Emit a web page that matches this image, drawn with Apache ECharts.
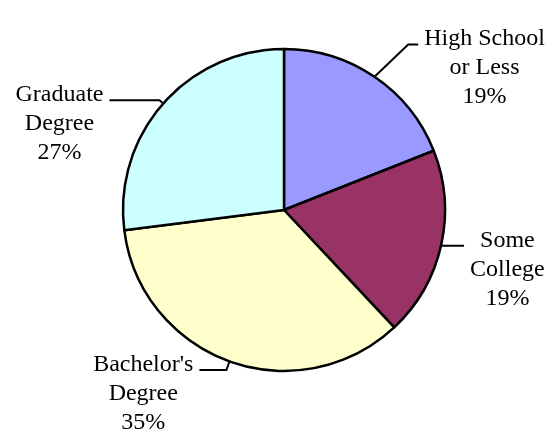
<!DOCTYPE html>
<html style="height: 100%">
<head>
    <meta charset="UTF-8">
    <title>Education Pie</title>
    <script src="https://cdn.jsdelivr.net/npm/echarts@6/dist/echarts.min.js"></script>
    <style>
        html, body { margin: 0; padding: 0; background: #fff; }
        #chart { width: 556px; height: 431px; }
    </style>
</head>
<body>
    <div id="chart"></div>
    <script>
        // data
        var categories = ['High School\nor Less', 'Some\nCollege', "Bachelor's\nDegree", 'Graduate\nDegree'];
        var values = [19, 19, 35, 27];
        var colors = ['#9999FF', '#993366', '#FFFFCC', '#CCFFFF'];
        // leader line lengths per slice [length, length2]
        var leaders = [[60, 10], [3, 25], [9, 27], [5, 50]];

        var data = categories.map(function (name, i) {
            return {
                name: name,
                value: values[i],
                itemStyle: { color: colors[i] },
                labelLine: {
                    show: true,
                    length: leaders[i][0],
                    length2: leaders[i][1],
                    lineStyle: { color: '#000', width: 2 }
                }
            };
        });

        var chart = echarts.init(document.getElementById('chart'));
        chart.setOption({
            animation: false,
            series: [{
                type: 'pie',
                center: [284, 210],
                radius: 161,
                startAngle: 90,
                clockwise: true,
                data: data,
                itemStyle: { borderColor: '#000', borderWidth: 2.5 },
                label: {
                    show: true,
                    position: 'outside',
                    alignTo: 'none',
                    formatter: function (p) { return p.name + '\n' + Math.round(p.percent) + '%'; },
                    fontFamily: 'Liberation Serif',
                    fontSize: 24,
                    lineHeight: 29,
                    color: '#000'
                },
                labelLine: {
                    show: true,
                    lineStyle: { color: '#000', width: 2 }
                },
                emphasis: { disabled: true },
                labelLayout: function (p) {
                    var pts = p.labelLinePoints;
                    if (!pts) return {};
                    var end = pts[pts.length - 1];
                    var right = end[0] > pts[0][0];
                    var w = p.labelRect.width;
                    return {
                        x: end[0] + (right ? 6 + w / 2 : -6 - w / 2),
                        y: end[1] - 20,
                        align: 'center',
                        verticalAlign: 'top',
                        labelLinePoints: pts
                    };
                }
            }]
        });
    </script>
</body>
</html>
